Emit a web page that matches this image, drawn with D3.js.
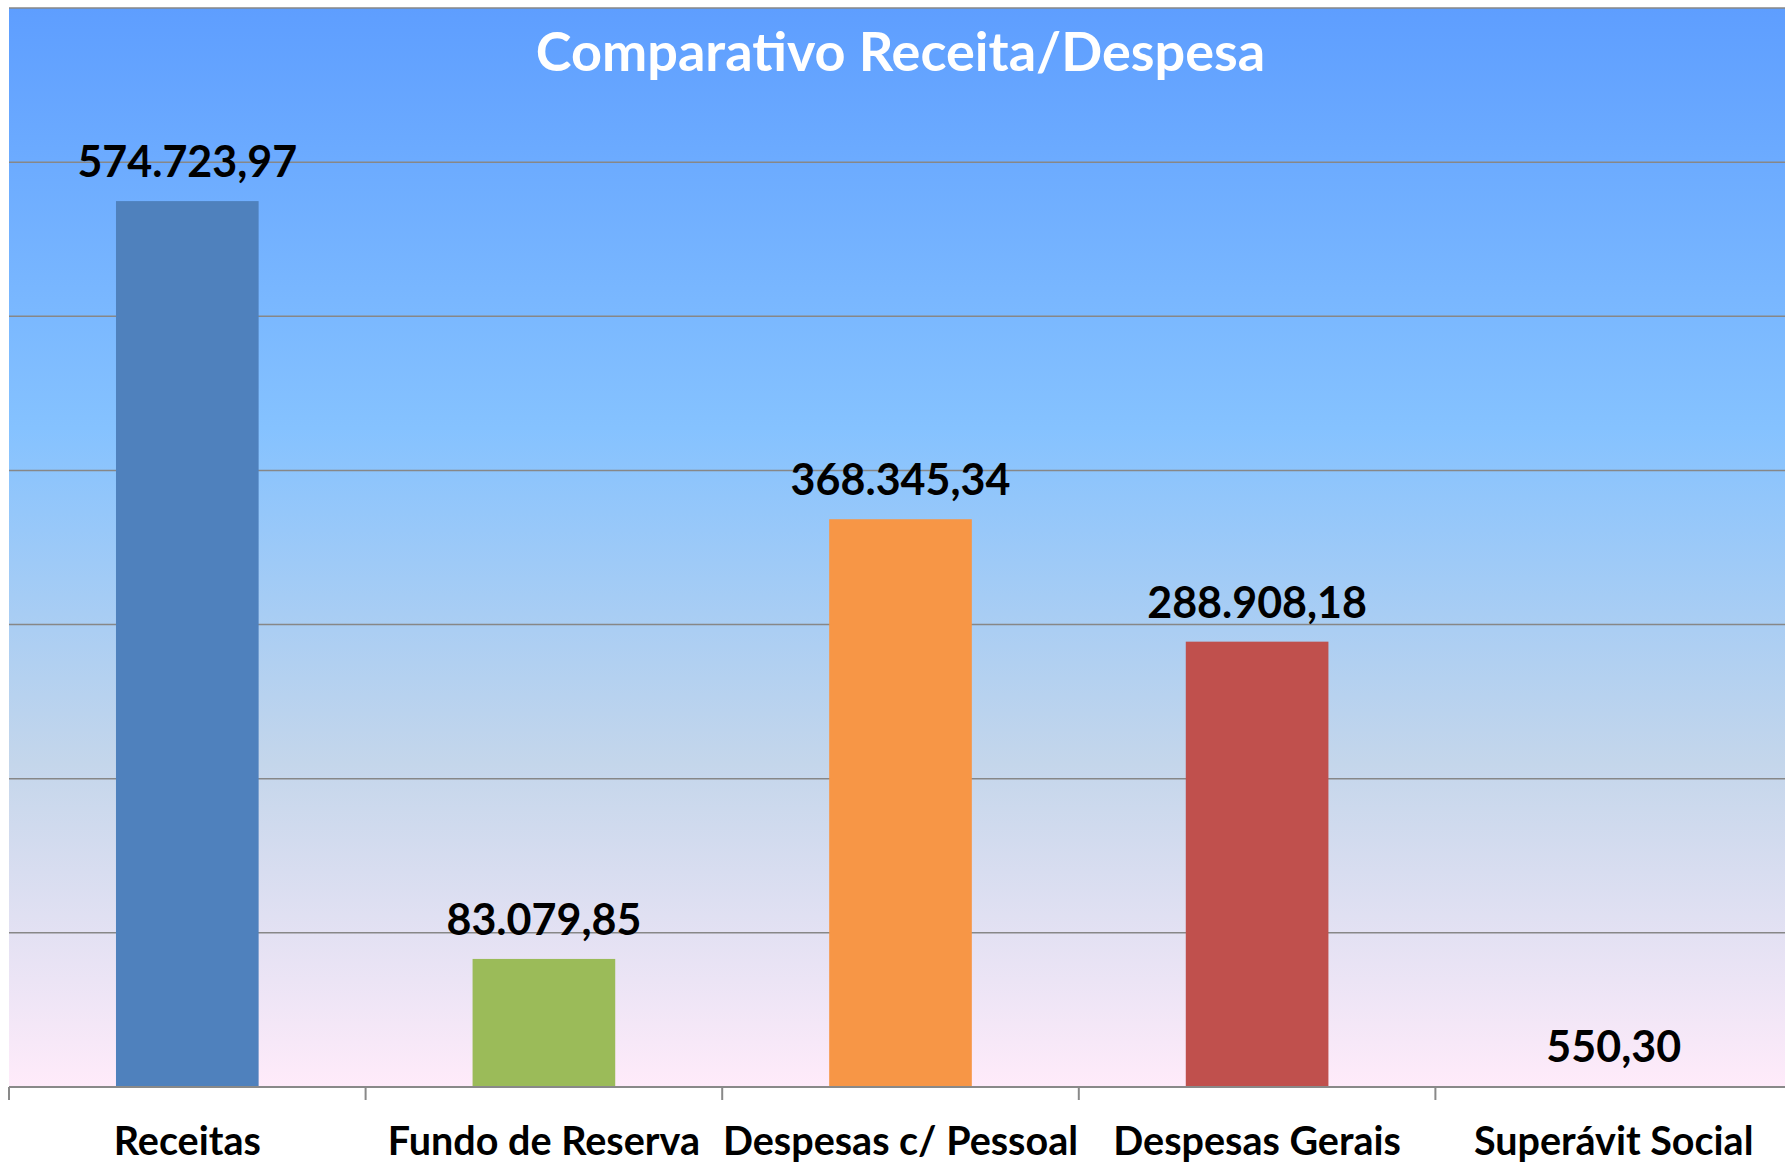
<!DOCTYPE html>
<html>
<head>
<meta charset="utf-8">
<script src="https://cdn.jsdelivr.net/npm/d3@7"></script>
<style>
  body { margin: 0; background: #fff; }
  text { font-family: Lato, "Open Sans", sans-serif; font-weight: bold; }
</style>
</head>
<body>
<div id="chart"></div>
<script>
// chart data
var categories = ["Receitas", "Fundo de Reserva", "Despesas c/ Pessoal", "Despesas Gerais", "Superávit Social"];
var values = [574723.97, 83079.85, 368345.34, 288908.18, 550.30];
var labels = ["574.723,97", "83.079,85", "368.345,34", "288.908,18", "550,30"];
var colors = ["#4f81bd", "#9bbb59", "#f79646", "#c0504d", "#5a7fae"];
var yTicks = [0, 100000, 200000, 300000, 400000, 500000, 600000, 700000];

var width = 1785, height = 1165;
var margin = {top: 8, right: -7, bottom: 78, left: 9};
var w = width - margin.left - margin.right;
var h = height - margin.top - margin.bottom;

var svg = d3.select("#chart")
  .append("svg")
  .attr("width", width)
  .attr("height", height);

// background gradient (Office "Daybreak")
var defs = svg.append("defs");
var grad = defs.append("linearGradient")
  .attr("id", "bg")
  .attr("x1", 0).attr("y1", 0).attr("x2", 0).attr("y2", 1);
[[0, "#5e9eff"], [0.39, "#85c2ff"], [0.70, "#c4d6eb"], [1, "#ffebfa"]].forEach(function(s) {
  grad.append("stop").attr("offset", s[0]).attr("stop-color", s[1]);
});

var g = svg.append("g")
  .attr("transform", "translate(" + margin.left + "," + margin.top + ")");

g.append("rect")
  .attr("width", w)
  .attr("height", h)
  .attr("fill", "url(#bg)");

var x = d3.scaleBand()
  .domain(categories)
  .range([0, w])
  .paddingInner(0.6)
  .paddingOuter(0.3);

var y = d3.scaleLinear()
  .domain([0, 700000])
  .range([h, 0]);

// gridlines
g.selectAll(".grid")
  .data(yTicks.slice(1))
  .enter()
  .append("line")
  .attr("class", "grid")
  .attr("x1", 0)
  .attr("x2", w)
  .attr("y1", function(d) { return y(d); })
  .attr("y2", function(d) { return y(d); })
  .attr("stroke", "#878787")
  .attr("stroke-width", 1.5);

// bars
g.selectAll(".bar")
  .data(values)
  .enter()
  .append("rect")
  .attr("class", "bar")
  .attr("x", function(d, i) { return x(categories[i]); })
  .attr("y", function(d) { return y(d); })
  .attr("width", x.bandwidth())
  .attr("height", function(d) { return h - y(d); })
  .attr("fill", function(d, i) { return colors[i]; });

// value labels
g.selectAll(".val")
  .data(values)
  .enter()
  .append("text")
  .attr("class", "val")
  .attr("x", function(d, i) { return x(categories[i]) + x.bandwidth() / 2; })
  .attr("y", function(d) { return y(d) - 24; })
  .attr("text-anchor", "middle")
  .style("font-size", "43px")
  .attr("fill", "#000")
  .text(function(d, i) { return labels[i]; });

// x axis: line + ticks at category boundaries
var step = x.step();
g.append("line")
  .attr("x1", 0).attr("x2", w)
  .attr("y1", h).attr("y2", h)
  .attr("stroke", "#898989")
  .attr("stroke-width", 2);

g.selectAll(".tick")
  .data(d3.range(categories.length + 1))
  .enter()
  .append("line")
  .attr("class", "tick")
  .attr("x1", function(i) { return i * step; })
  .attr("x2", function(i) { return i * step; })
  .attr("y1", h)
  .attr("y2", h + 13)
  .attr("stroke", "#898989")
  .attr("stroke-width", 2);

g.selectAll(".cat")
  .data(categories)
  .enter()
  .append("text")
  .attr("class", "cat")
  .attr("x", function(d) { return x(d) + x.bandwidth() / 2; })
  .attr("y", h + 68)
  .attr("text-anchor", "middle")
  .style("font-size", "39.5px")
  .attr("fill", "#000")
  .text(function(d) { return d; });

// title
g.append("text")
  .attr("x", w / 2)
  .attr("y", 63)
  .attr("text-anchor", "middle")
  .style("font-size", "54px")
  .attr("fill", "#fff")
  .text("Comparativo Receita/Despesa");
</script>
</body>
</html>
